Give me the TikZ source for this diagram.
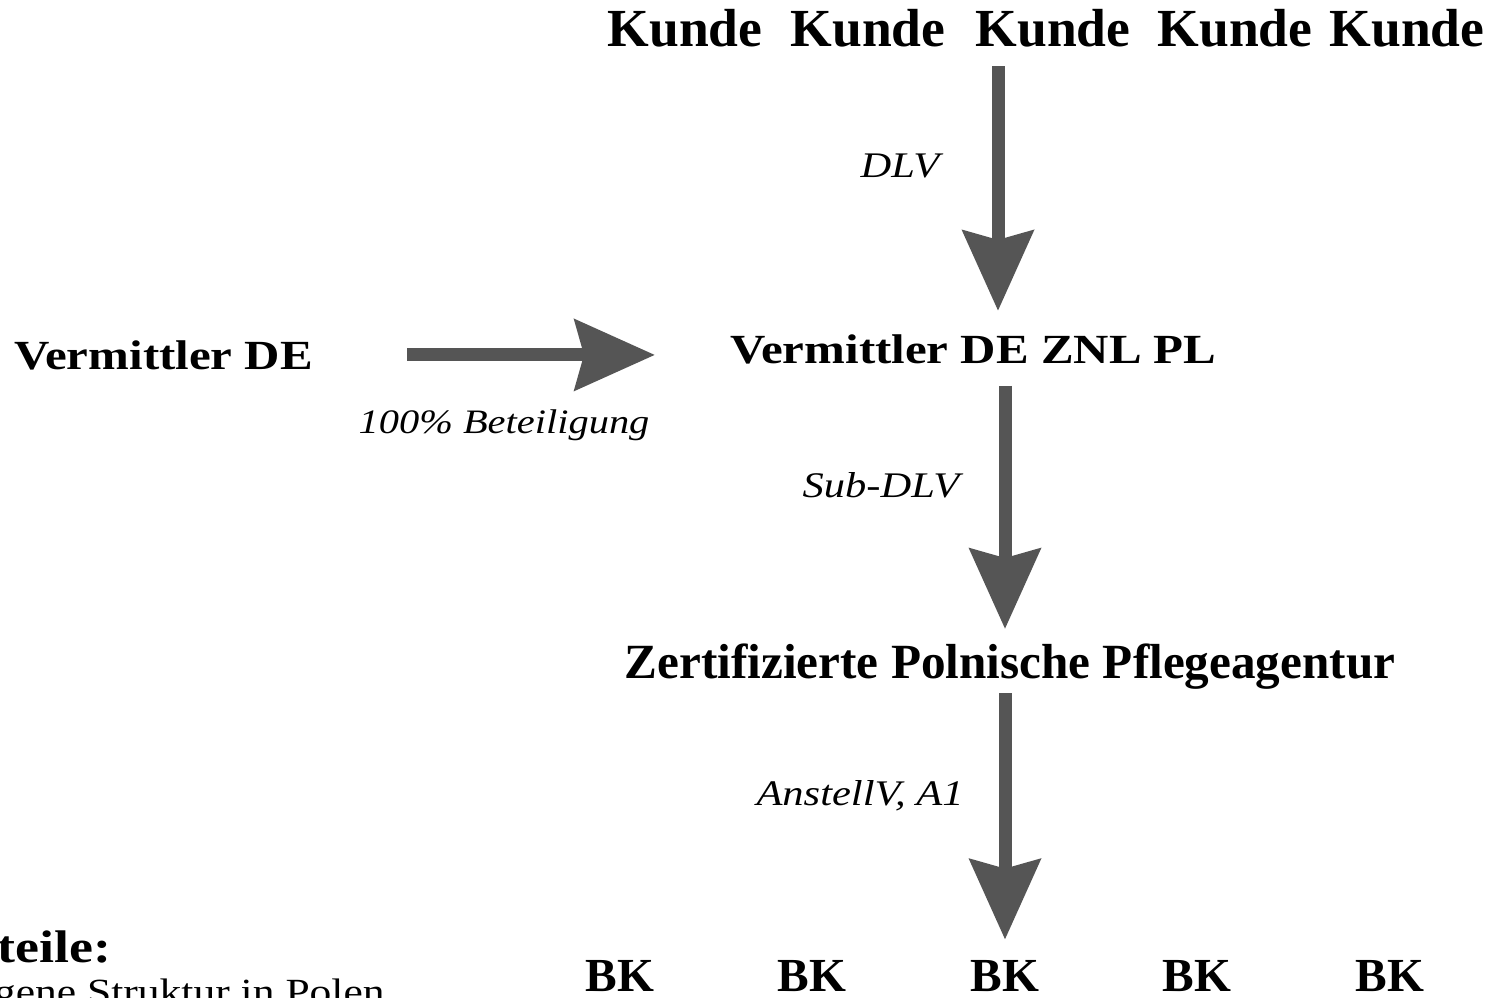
\documentclass[tikz,border=0pt]{standalone}
\usepackage{fontspec}
\setmainfont{Liberation Serif}
\newfontfamily\broadfont[FakeStretch=1.18]{Liberation Serif}
\usepackage{xcolor}
\usetikzlibrary{arrows.meta}
\definecolor{flowgray}{HTML}{555555}
\tikzset{
  party/.style={font=\bfseries\fontsize{30.5}{36}\selectfont, inner sep=0pt, anchor=base},
  agency/.style={font=\bfseries\fontsize{28}{34}\selectfont, inner sep=0pt, anchor=base},
  firm/.style={font=\broadfont\bfseries\fontsize{23.6}{28}\selectfont, inner sep=0pt, anchor=base},
  contract/.style={font=\broadfont\itshape\fontsize{20.5}{25}\selectfont, inner sep=0pt, anchor=base},
  flow/.style={draw=flowgray, line width=0.26cm, -{Stealth[length=1.6cm, width=1.4cm, inset=0.18cm]}},
}

\begin{document}
\begin{tikzpicture}[x=0.02cm, y=-0.02cm]
\useasboundingbox (0,0) rectangle (1490,997);
\clip (0,0) rectangle (1490,997);
\fill[white] (0,0) rectangle (1490,997);
\foreach \x [count=\i] in {685,868,1053,1235,1407} {
    \node[party] (kunde\i) at (\x,47) {Kunde};
}
\foreach \x [count=\i] in {620,812,1005,1197,1390} {
    \node[agency, font=\bfseries\fontsize{27}{32}\selectfont] (bk\i) at (\x,991) {BK};
}
\node[firm, anchor=base west] (vde) at (14,369) {Vermittler DE};
\node[firm, anchor=base west] (znl) at (730,363) {Vermittler DE ZNL PL};
\node[agency] (agentur) at (1010,678) {Zertifizierte Polnische Pflegeagentur};
\coordinate (dlvaxis) at (998,0);
\coordinate (subaxis) at (1005,0);
\draw[flow, shorten <=0.36cm, shorten >=0.46cm] (kunde3.south -| dlvaxis) -- (znl.north -| dlvaxis);
\draw[flow, shorten <=1.88cm, shorten >=1.5cm] (vde.east) -- (vde.east -| znl.west);
\draw[flow, shorten <=0.44cm, shorten >=0.28cm] (znl.south -| subaxis) -- (agentur.north -| subaxis);
\draw[flow, shorten <=0.08cm, shorten >=0.4cm] (agentur.south -| bk3) -- (bk3.north);
\node[contract] (dlv) at (900,177) {DLV};
\node[contract, font=\broadfont\itshape\fontsize{19.5}{24}\selectfont] (beteil) at (504,433) {100\% Beteiligung};
\node[contract] (subdlv) at (881,497) {Sub-DLV};
\node[contract] (anstell) at (860,805) {AnstellV, A1};
\node[firm, font=\broadfont\bfseries\fontsize{26}{31}\selectfont, anchor=base east] (vorteile) at (112,962) {teile:};
\node[firm, font=\broadfont\fontsize{21}{25}\selectfont, anchor=base east] (struktur) at (385,1004) {gene Struktur in Polen};
\end{tikzpicture}
\end{document}
